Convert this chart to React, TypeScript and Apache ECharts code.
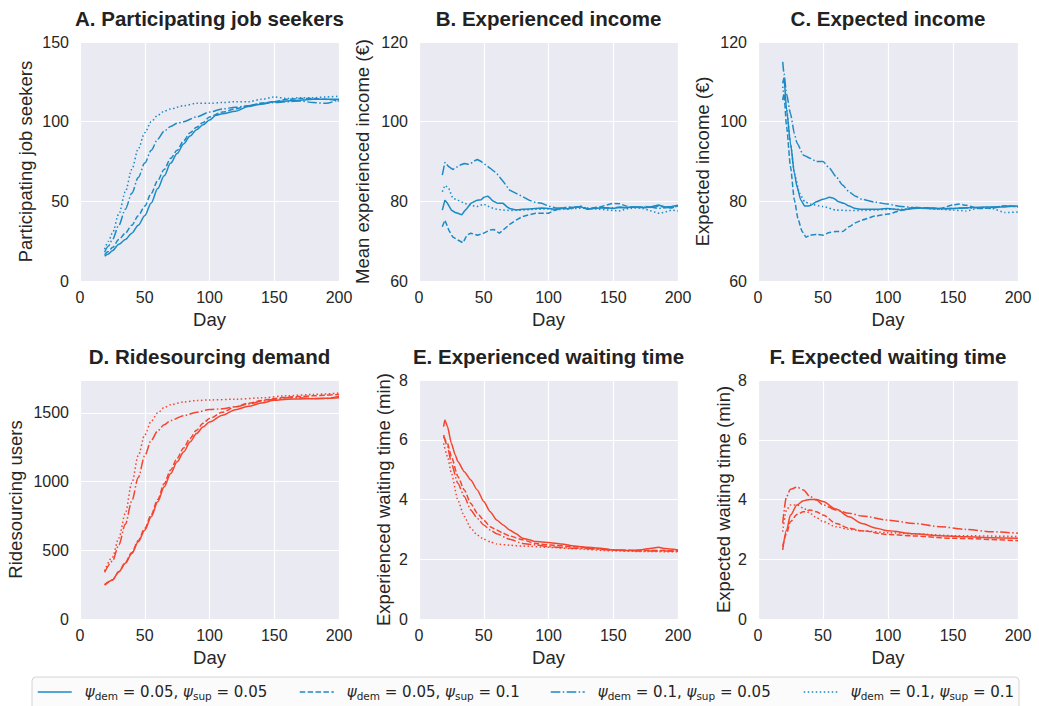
import React, { useEffect, useRef } from "react";
import * as echarts from "echarts";

// Scenario labels (demand / supply learning rates)
const SCENARIOS = [
  "ψdem = 0.05, ψsup = 0.05",
  "ψdem = 0.05, ψsup = 0.1",
  "ψdem = 0.1, ψsup = 0.05",
  "ψdem = 0.1, ψsup = 0.1",
];
const SCENARIO_RICH = [
  "{p|ψ}{s|dem} = 0.05, {p|ψ}{s|sup} = 0.05",
  "{p|ψ}{s|dem} = 0.05, {p|ψ}{s|sup} = 0.1",
  "{p|ψ}{s|dem} = 0.1, {p|ψ}{s|sup} = 0.05",
  "{p|ψ}{s|dem} = 0.1, {p|ψ}{s|sup} = 0.1",
];

const PANEL_TITLES = [
  "A. Participating job seekers",
  "B. Experienced income",
  "C. Expected income",
  "D. Ridesourcing demand",
  "E. Experienced waiting time",
  "F. Expected waiting time",
];
const Y_NAMES = [
  "Participating job seekers",
  "Mean experienced income (€)",
  "Expected income (€)",
  "Ridesourcing users",
  "Experienced waiting time (min)",
  "Expected waiting time (min)",
];
const X_TICKS = [0, 50, 100, 150, 200];
const Y_RANGES = [
  [0, 150, 50],
  [60, 120, 20],
  [60, 120, 20],
  [0, 1740, 500],
  [0, 8, 2],
  [0, 8, 2],
];

// A. Participating job seekers  [day, count]
const A_0505 = [[19,15.5],[22,17],[25,19],[30,23],[35,26],[40,30],[45,35],[50,41],[55,49],[60,58],[65,66],[70,74],[75,80],[80,86],[85,91],[90,95],[95,98],[100,101],[105,104],[110,105],[120,106.5],[130,109.5],[140,111],[150,112.5],[160,113],[170,113.5],[180,114],[190,114],[200,114]];
const A_0510 = [[19,16.5],[22,18.5],[25,21],[30,26],[35,30],[40,35],[45,41],[50,47],[55,55],[60,63],[65,70],[70,77],[75,82],[80,88],[85,93],[90,96.5],[95,99.5],[100,103],[110,106],[120,108],[130,110],[140,111.5],[150,112.5],[160,114],[170,114.5],[180,114.5],[190,114],[200,113]];
const A_1005 = [[19,18],[22,22],[25,26],[30,35],[35,45],[40,55],[45,65],[50,74],[55,82],[60,89],[65,94],[70,97],[75,99],[80,100],[90,103],[100,106],[110,108],[120,109],[130,110],[140,111.5],[150,112],[160,112.5],[170,113],[180,112],[190,111.5],[200,114]];
const A_1010 = [[19,20],[22,25],[25,30],[30,42],[35,56],[40,70],[45,83],[50,93],[55,100],[60,104],[65,106.5],[70,108],[80,110],[90,111.5],[100,111.5],[110,112],[120,112.5],[130,112.5],[140,114],[150,115.5],[160,114.5],[170,115],[180,115],[190,115.5],[200,116]];

// B. Mean experienced income (€)
const B_0505 = [[18,77.8],[20,80.3],[22,79.5],[25,77.8],[28,77.2],[30,77],[33,76.6],[35,77.5],[37,78.2],[40,79.5],[43,80],[45,80.3],[48,80.4],[50,81],[53,81.3],[55,80.8],[57,80.1],[60,79.6],[62,79.5],[65,79.5],[68,78.6],[70,78.2],[75,77.8],[80,78],[85,78.1],[90,78.2],[95,78.3],[100,78.2],[105,78],[110,78.3],[115,78.1],[120,78.5],[125,78.6],[130,78],[135,78.2],[140,78.3],[145,78.4],[150,78.2],[155,78.5],[160,78.4],[165,78.6],[170,78.5],[175,78.4],[180,78.7],[185,79.1],[190,78.6],[195,78.7],[200,79]];
const B_0510 = [[18,73.6],[20,75.3],[23,72.8],[26,71.1],[30,70.3],[34,69.6],[37,71.5],[40,72],[45,71.5],[50,72],[55,72.8],[58,72.9],[62,72],[65,72.8],[70,74.2],[75,75.3],[80,76.2],[85,76.6],[90,77],[95,77],[100,77],[105,77.8],[110,78.2],[115,78.6],[120,78.3],[125,78.8],[130,78.1],[135,78.4],[140,78.6],[145,79.1],[150,79.5],[155,79.4],[160,78.8],[165,78.5],[170,78.4],[175,78.7],[180,78.4],[185,78.8],[190,78.5],[195,78.3],[200,78.8]];
const B_1005 = [[18,86.6],[20,89.8],[23,88.7],[26,88],[28,88.3],[31,89],[35,89.5],[38,89.3],[40,89.5],[43,90.2],[45,90.5],[48,90],[50,89.5],[55,88.3],[60,87],[65,85],[70,82.8],[75,82],[80,81.2],[85,80.3],[90,79.7],[95,79.5],[100,78.8],[105,78.4],[110,78.2],[115,78.4],[120,78.5],[125,78.7],[130,78.1],[135,78.3],[140,78.5],[145,78.3],[150,78.4],[155,78.5],[160,78.4],[165,78.6],[170,78.6],[175,78.5],[180,78.5],[185,78.2],[190,78.4],[195,78.5],[200,78.8]];
const B_1010 = [[18,82.4],[20,84],[23,83.3],[26,80.8],[30,80.3],[35,79.5],[40,79],[45,78.7],[50,79.3],[55,78.5],[60,78],[65,77.8],[70,77.7],[80,77.8],[90,78],[100,78.1],[105,77.8],[110,78],[120,78.2],[130,78.3],[140,78],[150,77.7],[155,77.6],[160,78.1],[170,78.4],[175,78],[180,77.5],[185,77],[190,77.3],[195,77.8],[200,77.6]];

// C. Expected income (€)
const C_0505 = [[19,109.6],[20,111],[22,103],[25,94.6],[28,87],[30,83.7],[33,80.3],[36,78.8],[40,78.9],[45,79.9],[50,80.5],[55,81],[58,80.8],[62,79.9],[66,79.5],[70,78.8],[75,78.2],[80,78],[90,78],[100,78.2],[110,77.8],[120,78.2],[130,78.4],[140,78.2],[150,78.2],[160,78.4],[170,78.5],[180,78.6],[190,78.6],[200,78.8]];
const C_0510 = [[19,105.4],[20,107],[22,98.7],[25,88.7],[28,80.3],[31,75.3],[34,72.4],[37,71],[40,71.5],[45,71.7],[50,71.5],[55,72.2],[60,72.4],[65,72.4],[70,73.6],[75,74.6],[80,75.3],[90,76.3],[100,76.8],[110,77.7],[120,78.5],[130,78.3],[140,78.2],[150,79.1],[155,79.3],[160,79],[170,78.2],[180,78.3],[190,78.9],[200,78.6]];
const C_1005 = [[19,115],[20,112],[22,107],[25,102],[28,97],[30,94.6],[35,91.6],[40,90.8],[45,90],[50,90],[55,88.3],[60,86.2],[65,84.1],[70,82.4],[75,81.3],[80,80.5],[90,79.8],[100,79.3],[110,78.7],[120,78.4],[130,78.2],[140,78.1],[150,78.2],[160,78.3],[170,78.4],[180,78.5],[190,78.8],[200,78.7]];
const C_1010 = [[19,108.8],[22,103],[25,94.6],[28,87],[32,82],[36,79.9],[40,79.3],[50,78.7],[60,77.8],[70,77.7],[80,77.7],[90,77.8],[100,78],[110,78],[120,78.3],[130,78.2],[140,78],[150,77.8],[160,77.6],[170,78.3],[180,78.2],[190,77.2],[200,77.3]];

// D. Ridesourcing users
const D_0505 = [[19,247],[25,283],[30,344],[35,405],[40,477],[45,562],[50,647],[55,744],[60,853],[65,962],[70,1059],[75,1144],[80,1216],[85,1289],[90,1350],[95,1398],[100,1434],[110,1483],[120,1524],[130,1548],[140,1572],[150,1592],[160,1600],[170,1602],[180,1604],[190,1607],[200,1611]];
const D_0510 = [[19,250],[25,285],[30,345],[35,410],[40,485],[45,572],[50,660],[55,760],[60,870],[65,985],[70,1085],[75,1170],[80,1245],[85,1315],[90,1375],[95,1425],[100,1460],[110,1505],[120,1545],[130,1570],[140,1590],[150,1605],[160,1615],[170,1620],[180,1625],[190,1630],[200,1635]];
const D_1005 = [[19,340],[25,420],[30,540],[35,690],[40,860],[45,1030],[50,1190],[55,1300],[60,1370],[65,1415],[70,1445],[80,1480],[90,1505],[100,1525],[110,1530],[120,1545],[130,1565],[140,1585],[150,1600],[160,1610],[170,1610],[180,1605],[190,1605],[200,1620]];
const D_1010 = [[19,350],[25,450],[30,590],[35,770],[40,990],[45,1190],[50,1340],[55,1440],[60,1500],[65,1540],[70,1560],[80,1580],[90,1590],[100,1595],[120,1600],[140,1610],[160,1625],[180,1635],[200,1645]];

// E. Experienced waiting time (min)
const E_0505 = [[19,6.44],[20,6.66],[22,6.44],[25,5.88],[28,5.49],[30,5.27],[35,4.93],[40,4.65],[45,4.32],[50,3.93],[55,3.59],[60,3.31],[65,3.15],[70,2.98],[75,2.85],[80,2.7],[85,2.65],[90,2.59],[100,2.56],[110,2.51],[120,2.44],[130,2.4],[140,2.37],[150,2.31],[160,2.29],[170,2.31],[180,2.37],[185,2.4],[190,2.36],[200,2.31]];
const E_0510 = [[19,6.1],[22,5.88],[25,5.44],[30,4.77],[35,4.32],[40,3.87],[45,3.54],[50,3.31],[55,3.09],[60,2.98],[65,2.87],[70,2.78],[80,2.65],[90,2.53],[100,2.48],[120,2.42],[140,2.35],[150,2.31],[170,2.29],[200,2.29]];
const E_1005 = [[19,6.16],[22,5.77],[25,5.21],[30,4.54],[35,4.1],[40,3.65],[45,3.37],[50,3.15],[55,2.98],[60,2.85],[70,2.67],[80,2.53],[90,2.48],[100,2.42],[120,2.37],[150,2.31],[170,2.28],[200,2.27]];
const E_1010 = [[19,5.88],[22,5.44],[25,4.88],[30,3.98],[35,3.43],[40,3.04],[45,2.81],[50,2.67],[55,2.58],[60,2.51],[70,2.47],[80,2.44],[100,2.4],[120,2.35],[150,2.28],[170,2.26],[200,2.25]];

// F. Expected waiting time (min)
const F_0505 = [[19,2.31],[22,2.98],[25,3.48],[30,3.82],[35,3.96],[40,4.0],[45,4.0],[50,3.93],[60,3.68],[70,3.42],[80,3.2],[90,3.05],[100,2.95],[120,2.85],[140,2.79],[160,2.75],[180,2.72],[200,2.7]];
const F_0510 = [[19,2.42],[22,2.87],[25,3.26],[30,3.5],[35,3.59],[40,3.65],[45,3.59],[50,3.48],[60,3.2],[70,3.04],[80,2.95],[100,2.83],[120,2.78],[150,2.7],[200,2.62]];
const F_1005 = [[19,3.2],[22,4.1],[25,4.34],[30,4.41],[35,4.32],[40,4.1],[45,3.98],[50,3.82],[60,3.65],[70,3.54],[80,3.45],[100,3.31],[120,3.2],[140,3.09],[160,3.0],[180,2.92],[200,2.87]];
const F_1010 = [[19,2.92],[22,3.65],[25,3.82],[30,3.82],[35,3.71],[40,3.54],[45,3.39],[50,3.26],[60,3.09],[70,3.0],[80,2.95],[100,2.89],[120,2.85],[150,2.79],[200,2.76]];

const PANEL_DATA = [
  [A_0505, A_0510, A_1005, A_1010],
  [B_0505, B_0510, B_1005, B_1010],
  [C_0505, C_0510, C_1005, C_1010],
  [D_0505, D_0510, D_1005, D_1010],
  [E_0505, E_0510, E_1005, E_1010],
  [F_0505, F_0510, F_1005, F_1010],
];

const BLUE = "#1b8bc6";
const RED = "#f5452e";
const PANEL_COLORS = [BLUE, BLUE, BLUE, RED, RED, RED];
const DASHES: any[] = ["solid", [5.5, 2.4], [9.6, 2.4, 1.5, 2.4], [1.5, 2.5]];
const SMOOTH = [0.3, 0, 0.2, 0.3, 0.2, 0.3];

const TEXT = "#262626";
const FONT = "'Liberation Sans', Arial, sans-serif";

// Panel rectangles: [left, top, width, height]
const GRIDS = [
  [80, 42, 259, 239],
  [419, 42, 259, 239],
  [758, 42, 260, 239],
  [80, 380, 259, 239],
  [419, 380, 259, 239],
  [758, 380, 260, 239],
];
const Y_NAME_GAPS = [45, 47, 46, 55, 26, 25];
const LEGEND_LEFT = [37, 299, 550, 803];

export default function App() {
  const ref = useRef<HTMLDivElement>(null);

  useEffect(() => {
    if (!ref.current) return;
    const chart = echarts.init(ref.current, undefined, { renderer: "svg" });

    const grid = GRIDS.map(([l, t, w, h]) => ({
      left: l, top: t, width: w, height: h,
      show: true, backgroundColor: "#eaeaf2", borderWidth: 0,
    }));

    const xAxis = GRIDS.map((_, i) => ({
      type: "value", gridIndex: i, min: X_TICKS[0], max: X_TICKS[X_TICKS.length - 1], interval: 50,
      name: "Day", nameLocation: "middle", nameGap: 29,
      nameTextStyle: { fontSize: 18.5, color: TEXT, fontFamily: FONT },
      axisLine: { show: false }, axisTick: { show: false },
      axisLabel: { fontSize: 16, color: TEXT, fontFamily: FONT, margin: 8 },
      splitLine: { show: true, lineStyle: { color: "#ffffff", width: 1.2 } },
    }));

    const yAxis = GRIDS.map((_, i) => {
      const [mn, mx, step] = Y_RANGES[i];
      return {
        type: "value", gridIndex: i, min: mn, max: mx, interval: step,
        name: Y_NAMES[i], nameLocation: "middle", nameGap: Y_NAME_GAPS[i],
        nameTextStyle: { fontSize: 18.5, color: TEXT, fontFamily: FONT },
        axisLine: { show: false }, axisTick: { show: false },
        axisLabel: {
          fontSize: 16, color: TEXT, fontFamily: FONT, margin: 11,
          formatter: (v: number) => ((v - mn) % step === 0 ? String(v) : ""),
        },
        splitLine: { show: true, lineStyle: { color: "#ffffff", width: 1.2 } },
      };
    });

    const series: any[] = [];
    PANEL_DATA.forEach((lines, i) => {
      lines.forEach((pts, k) => {
        series.push({
          type: "line", name: SCENARIOS[k], xAxisIndex: i, yAxisIndex: i,
          data: pts, showSymbol: false, symbol: "none",
          smooth: SMOOTH[i], smoothMonotone: "x",
          lineStyle: { color: PANEL_COLORS[i], width: 1.5, type: DASHES[k], cap: "butt" },
          itemStyle: { color: PANEL_COLORS[i] },
          emphasis: { disabled: true }, silent: true,
        });
      });
    });

    const legend = SCENARIOS.map((name, k) => ({
      data: [name], left: LEGEND_LEFT[k], top: 683, selectedMode: false,
      itemWidth: 34, itemHeight: 14, padding: 0,
      // line-only key: hide the marker drawn over the line sample
      itemStyle: { color: "rgba(0,0,0,0)", borderWidth: 0, opacity: 0 },
      lineStyle: { color: BLUE, width: 1.5, type: DASHES[k], opacity: 1 },
      formatter: () => SCENARIO_RICH[k],
      textStyle: {
        fontFamily: "'DejaVu Sans', sans-serif", fontSize: 15, color: TEXT, lineHeight: 18,
        padding: [0, 0, 0, 8],
        rich: {
          p: { fontFamily: "'DejaVu Sans', sans-serif", fontStyle: "italic", fontSize: 15, color: TEXT, lineHeight: 18 },
          s: { fontFamily: "'DejaVu Sans', sans-serif", fontSize: 10.5, color: TEXT, lineHeight: 10.5, verticalAlign: "bottom" },
        },
      },
    }));

    const titles = PANEL_TITLES.map((t, i) => ({
      type: "text",
      x: GRIDS[i][0] + GRIDS[i][2] / 2,
      y: i < 3 ? 18 : 356,
      style: {
        text: t, fill: "#222222", fontSize: 20.5, fontWeight: "bold", fontFamily: FONT,
        textAlign: "center", textVerticalAlign: "middle",
      },
    }));

    chart.setOption({
      animation: false,
      backgroundColor: "#ffffff",
      grid, xAxis, yAxis, series, legend,
      graphic: [
        {
          type: "rect", z: -1,
          shape: { x: 32, y: 677, width: 987, height: 40, r: 4 },
          style: { fill: "#fbfbfb", stroke: "#d4d4d4", lineWidth: 1 },
        },
        ...titles,
      ],
    });

    return () => chart.dispose();
  }, []);

  return (
    <div
      ref={ref}
      style={{ position: "fixed", left: 0, top: 0, width: 1039, height: 706 }}
    />
  );
}
